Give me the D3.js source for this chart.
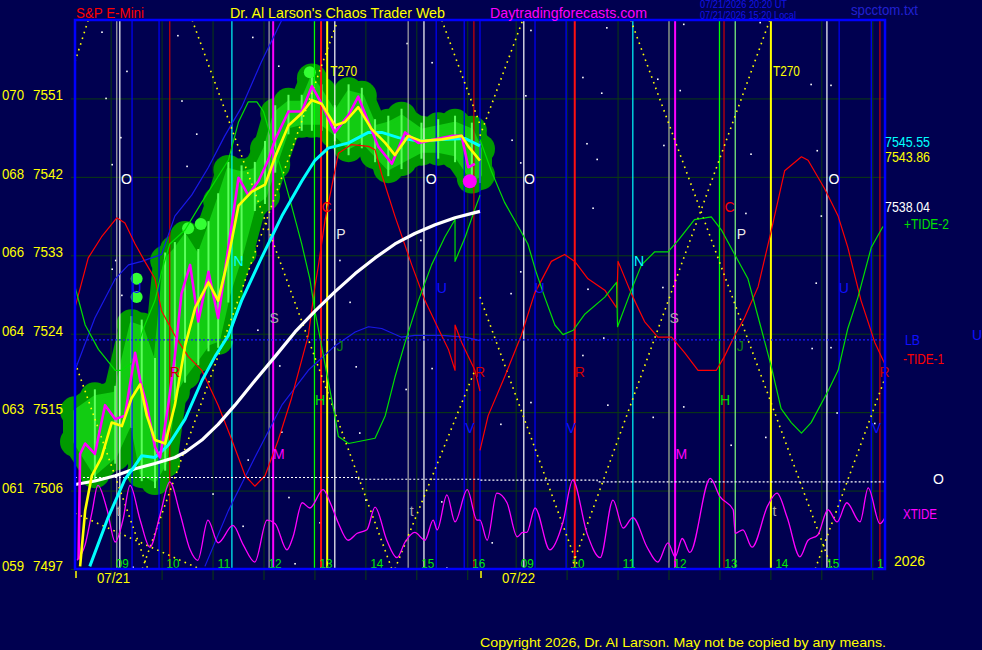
<!DOCTYPE html>
<html>
<head>
<meta charset="utf-8">
<script src="https://cdn.jsdelivr.net/npm/d3@7"></script>
<style>
html, body { margin: 0; padding: 0; background: #000050; }
svg { display: block; font-family: "Liberation Sans", Arial, sans-serif; }
</style>
</head>
<body>
<svg id="chart" width="982" height="650"></svg>
<script>
// ---- data (times are clock hours, 07/22 = 24 + hour) ----
const priceTicks = [7497, 7506, 7515, 7524, 7533, 7542, 7551];
const altTicks = ["059", "061", "063", "064", "066", "068", "070"];
const hourTicks = [9, 10, 11, 12, 13, 14, 15, 16, 33, 34, 35, 36, 37, 38, 39, 40];
const hourLabels = ["09", "10", "11", "12", "13", "14", "15", "16", "09", "10", "11", "12", "13", "14", "15", "16"];
const dayStarts = [8.3, 32.3];
const dayLabels = ["07/21", "07/22"];

// vertical event lines
const markerTimes = [9.12, 9.18, 9.42, 9.95, 10.16, 11.38, 12.11, 12.19, 13.00, 13.13, 13.25, 13.40, 14.84, 15.15, 15.39, 15.94, 16.13, 16.25,
  33.16, 33.38, 33.99, 34.16, 35.30, 36.01, 36.13, 37.00, 37.09, 37.31, 38.01, 39.11, 39.35, 39.98, 40.15];
const markerKinds = ["gray", "white", "blue", "blue", "red", "cyan", "gray", "mag", "green", "hot", "yel", "white", "gray", "white", "blue", "blue", "red", "blue",
  "white", "blue", "blue", "hot", "cyan", "gray", "mag", "green", "red", "lgreen", "yel", "white", "blue", "blue", "red"];

// letter labels
const letterT = [9.31, 15.29, 33.27, 39.25, 13.52, 37.43, 11.51, 35.42, 12.21, 36.11, 9.51, 15.50, 33.47, 39.44, 13.50, 37.41,
  10.26, 16.25, 34.26, 40.24, 13.11, 37.11, 12.30, 36.25, 13.24, 37.20, 16.05, 34.09, 40.08, 9.15, 14.91, 38.08];
const letterP = [7541.7, 7541.7, 7541.7, 7541.7, 7535.5, 7535.5, 7532.3, 7532.3, 7525.8, 7525.8, 7529.2, 7529.2, 7529.2, 7529.2, 7522.6, 7522.6,
  7519.6, 7519.6, 7519.6, 7519.6, 7516.4, 7516.4, 7510.2, 7510.2, 7538.5, 7538.5, 7513.2, 7513.2, 7513.2, 7503.7, 7503.7, 7503.7];
const letterText = ["O", "O", "O", "O", "P", "P", "N", "N", "S", "S", "U", "U", "U", "U", "J", "J",
  "R", "R", "R", "R", "H", "H", "M", "M", "C", "C", "V", "V", "V", "t", "t", "t"];
const t270Times = [13.31, 38.05];
const t270Price = 7554.2;

// +TIDE-2 (green)
const tide2Day1 = [[8.30, 7529.4], [8.50, 7525.0], [8.76, 7522.2], [9.09, 7519.8], [9.22, 7519.8], [9.41, 7520.6], [9.67, 7525.0], [9.87, 7527.8],
  [10.00, 7531.1], [10.16, 7534.3], [10.46, 7535.9], [10.79, 7539.1], [11.05, 7541.5], [11.31, 7543.9], [11.51, 7548.3], [11.70, 7550.6],
  [11.87, 7550.6], [12.00, 7549.5], [12.16, 7546.3], [12.36, 7542.7], [12.55, 7538.7], [12.75, 7534.3], [12.91, 7530.3], [13.01, 7526.6],
  [13.14, 7522.6], [13.27, 7518.6], [13.40, 7514.6], [13.47, 7512.2], [13.67, 7511.4], [14.19, 7512.0], [14.39, 7514.6], [14.58, 7519.0],
  [14.78, 7523.0], [15.04, 7527.8], [15.30, 7531.9], [15.56, 7535.1], [15.76, 7537.1], [15.76, 7532.3], [15.96, 7535.1], [16.15, 7538.3], [16.25, 7539.9]];
const tide2Day2 = [[32.26, 7546.3], [32.52, 7542.7], [32.78, 7539.1], [33.05, 7536.3], [33.24, 7534.3], [33.40, 7531.1], [33.57, 7528.2],
  [33.77, 7525.0], [33.93, 7523.9], [34.13, 7524.4], [34.35, 7526.2], [34.75, 7528.2], [34.98, 7529.9], [35.00, 7524.8], [35.27, 7529.0],
  [35.47, 7531.9], [35.73, 7533.4], [35.99, 7533.4], [36.19, 7534.7], [36.51, 7537.1], [36.84, 7537.4], [37.04, 7535.9], [37.30, 7533.1],
  [37.56, 7530.3], [37.82, 7524.6], [38.02, 7520.2], [38.21, 7515.4], [38.41, 7513.8], [38.61, 7512.6], [38.80, 7513.8], [39.13, 7517.4],
  [39.33, 7519.8], [39.52, 7524.6], [39.72, 7528.2], [39.98, 7533.9], [40.21, 7536.3]];

// -TIDE-1 (red)
const tide1Day1 = [[8.30, 7527.0], [8.56, 7532.7], [8.82, 7535.1], [9.12, 7537.3], [9.28, 7536.7], [9.48, 7534.3], [9.67, 7532.3], [9.87, 7530.3],
  [10.00, 7526.6], [10.26, 7523.8], [10.52, 7521.4], [10.79, 7519.8], [11.11, 7515.8], [11.38, 7511.8], [11.64, 7507.7], [11.83, 7506.5],
  [12.03, 7507.7], [12.29, 7511.8], [12.55, 7516.6], [12.88, 7523.8], [13.01, 7529.4], [13.08, 7531.9], [13.21, 7537.1], [13.47, 7544.7],
  [13.73, 7545.7], [14.06, 7545.5], [14.19, 7545.1], [14.32, 7542.3], [14.58, 7537.5], [14.91, 7531.9], [15.17, 7527.8], [15.43, 7524.6],
  [15.63, 7522.2], [15.76, 7519.8], [15.76, 7525.0], [15.89, 7523.0], [16.15, 7519.8], [16.25, 7517.4]];
const tide1Day2 = [[32.26, 7510.6], [32.46, 7514.6], [32.78, 7519.0], [33.11, 7523.8], [33.37, 7528.6], [33.70, 7532.3], [33.96, 7533.1],
  [34.16, 7532.3], [34.42, 7530.3], [34.75, 7529.0], [34.98, 7527.0], [35.01, 7532.3], [35.27, 7528.6], [35.53, 7525.4], [35.79, 7523.6],
  [36.06, 7523.6], [36.32, 7521.8], [36.58, 7519.8], [36.94, 7519.8], [37.10, 7521.4], [37.30, 7523.8], [37.49, 7525.8], [37.76, 7529.4],
  [38.02, 7535.9], [38.28, 7542.7], [38.61, 7544.3], [38.74, 7543.9], [39.06, 7540.7], [39.33, 7537.5], [39.52, 7533.9], [39.78, 7527.8],
  [40.05, 7523.0], [40.24, 7520.6]];

// blue cycle lines
const blueA = [[8.30, 7519.8], [8.69, 7525.8], [9.09, 7530.3], [9.35, 7531.9], [9.61, 7532.3], [10.00, 7533.1], [10.26, 7537.5], [10.59, 7539.9],
  [10.92, 7543.1], [11.24, 7546.7], [11.57, 7550.0], [11.96, 7555.2], [12.36, 7560.0]];
const blueB = [[10.85, 7497.3], [11.31, 7503.7], [11.83, 7509.8], [12.36, 7515.8], [12.88, 7519.8], [13.40, 7522.6], [13.80, 7524.2],
  [14.06, 7524.8], [14.32, 7524.6], [14.71, 7523.6], [14.97, 7523.8], [15.50, 7523.8], [15.96, 7523.6], [16.25, 7523.2]];
const lbLevel = 7523.3;
const oLevels = [[8.3, 7507.5], [13.87, 7507.5], [13.87, 7507.3], [16.25, 7507.3], [32.3, 7507.2], [34.6, 7507.2], [34.6, 7507.0], [40.25, 7507.0]];

// averages and price
const whiteAvg = [[8.30, 7506.7], [8.69, 7507.1], [9.09, 7507.7], [9.48, 7508.5], [9.87, 7509.1], [10.26, 7509.8], [10.46, 7510.4], [10.79, 7511.8],
  [11.11, 7513.6], [11.44, 7515.8], [11.83, 7518.6], [12.23, 7521.4], [12.62, 7524.2], [13.01, 7526.6], [13.40, 7528.8], [13.80, 7530.9],
  [14.19, 7532.7], [14.58, 7534.3], [14.97, 7535.5], [15.37, 7536.5], [15.76, 7537.3], [16.15, 7537.9], [16.25, 7538.04]];
const cyanAvg = [[8.59, 7497.3], [8.95, 7502.9], [9.28, 7507.3], [9.48, 7508.9], [9.61, 7510.0], [9.87, 7509.8], [10.13, 7511.2], [10.46, 7514.2],
  [10.79, 7518.6], [11.05, 7521.4], [11.31, 7523.8], [11.57, 7527.8], [11.96, 7532.7], [12.36, 7537.5], [12.75, 7541.5], [13.01, 7543.9],
  [13.27, 7545.3], [13.67, 7545.9], [14.06, 7547.1], [14.32, 7547.1], [14.65, 7546.5], [15.04, 7546.1], [15.50, 7546.3], [15.96, 7546.4], [16.25, 7545.55]];
const yellowAvg = [[8.40, 7497.3], [8.50, 7503.7], [8.63, 7507.7], [8.82, 7509.8], [9.02, 7513.8], [9.22, 7513.4], [9.41, 7516.6], [9.58, 7518.2],
  [9.71, 7514.6], [9.87, 7511.8], [10.07, 7511.4], [10.26, 7515.8], [10.46, 7522.6], [10.66, 7527.0], [10.92, 7529.9], [11.11, 7527.8],
  [11.31, 7532.7], [11.51, 7538.7], [11.77, 7540.3], [12.03, 7541.1], [12.23, 7544.3], [12.49, 7547.9], [12.75, 7549.3], [12.95, 7550.8],
  [13.14, 7550.4], [13.40, 7547.9], [13.60, 7548.3], [13.86, 7550.0], [14.12, 7547.5], [14.39, 7545.9], [14.58, 7544.5], [14.84, 7546.7],
  [15.10, 7546.1], [15.50, 7546.3], [15.89, 7546.7], [16.02, 7545.5], [16.25, 7543.86]];
const priceLine = [[8.37, 7498.1], [8.40, 7510.2], [8.50, 7511.4], [8.69, 7510.2], [8.89, 7515.8], [9.09, 7514.2], [9.28, 7514.6], [9.48, 7521.8],
  [9.58, 7518.6], [9.71, 7515.8], [9.87, 7511.0], [9.97, 7509.8], [10.13, 7515.8], [10.26, 7521.4], [10.39, 7528.6], [10.56, 7531.9],
  [10.72, 7525.4], [10.92, 7531.1], [11.11, 7525.8], [11.31, 7533.9], [11.51, 7541.9], [11.70, 7539.9], [11.90, 7541.5], [12.09, 7543.9],
  [12.23, 7546.3], [12.49, 7549.5], [12.75, 7549.5], [12.95, 7552.4], [13.14, 7550.4], [13.40, 7547.1], [13.67, 7549.1], [13.86, 7551.2],
  [14.06, 7548.3], [14.25, 7545.5], [14.52, 7543.5], [14.78, 7547.1], [15.04, 7545.9], [15.37, 7546.3], [15.69, 7546.7], [15.89, 7546.7],
  [16.02, 7543.1], [16.15, 7543.5]];
const lastPrice = [16.05, 7541.5];

// bar ranges behind the price (time, high, low)
const barRanges = [[8.30, 7515.1, 7511.6], [8.69, 7516.7, 7508.0], [9.09, 7517.1, 7510.0], [9.41, 7525.1, 7514.1], [9.61, 7524.7, 7508.0],
  [9.87, 7520.3, 7507.2], [10.07, 7532.4, 7509.2], [10.26, 7533.6, 7517.3], [10.46, 7535.2, 7519.3], [10.72, 7532.8, 7521.3],
  [10.92, 7536.0, 7522.9], [11.11, 7539.2, 7523.3], [11.31, 7542.8, 7528.5], [11.57, 7542.4, 7533.3], [11.83, 7542.8, 7539.0],
  [12.03, 7545.2, 7539.8], [12.23, 7549.3, 7543.4], [12.49, 7550.5, 7547.8], [12.75, 7550.5, 7548.2], [12.95, 7553.3, 7548.2],
  [13.14, 7551.7, 7548.2], [13.40, 7549.3, 7547.0], [13.67, 7551.7, 7545.4], [13.93, 7551.3, 7546.2], [14.19, 7547.7, 7544.6],
  [14.45, 7548.1, 7543.0], [14.71, 7548.9, 7543.8], [15.10, 7547.3, 7545.0], [15.43, 7547.7, 7545.0], [15.76, 7548.1, 7544.6],
  [16.09, 7547.3, 7541.8], [16.25, 7545.2, 7542.2]];
const brightPoints = [[9.51, 7530.3], [9.51, 7528.2], [10.52, 7536.1], [10.77, 7536.6], [12.91, 7554.0]];

// XTIDE oscillator
const xtide = [[8.34, 7498.0], [8.50, 7499.8], [8.63, 7503.4], [8.75, 7506.6], [8.93, 7503.8], [9.09, 7500.1], [9.24, 7502.6], [9.38, 7506.6],
  [9.58, 7502.6], [9.77, 7499.5], [9.97, 7503.2], [10.16, 7507.0], [10.36, 7503.4], [10.56, 7499.2], [10.71, 7498.0], [10.91, 7502.6],
  [11.11, 7500.0], [11.40, 7502.0], [11.60, 7499.8], [11.83, 7497.8], [12.07, 7502.6], [12.23, 7502.2], [12.46, 7499.2], [12.58, 7500.7],
  [12.76, 7504.6], [12.91, 7504.0], [13.17, 7506.1], [13.31, 7504.6], [13.46, 7502.4], [13.66, 7500.3], [13.84, 7501.1], [14.03, 7501.5],
  [14.19, 7504.1], [14.42, 7500.3], [14.62, 7498.3], [14.78, 7500.1], [14.97, 7501.2], [15.17, 7500.3], [15.33, 7502.6], [15.41, 7501.5],
  [15.60, 7505.5], [15.76, 7502.4], [16.00, 7506.1], [16.19, 7502.6], [16.25, 7502.6], [32.44, 7500.3], [32.63, 7505.7], [32.83, 7504.6],
  [33.03, 7500.7], [33.14, 7501.2], [33.22, 7501.2], [33.38, 7504.0], [33.67, 7499.2], [33.93, 7502.4], [34.12, 7507.2], [34.40, 7501.1],
  [34.66, 7498.3], [34.91, 7504.9], [35.11, 7501.7], [35.30, 7502.9], [35.58, 7499.5], [35.79, 7497.8], [35.99, 7500.0], [36.13, 7498.4],
  [36.27, 7500.5], [36.42, 7498.9], [36.82, 7507.4], [37.01, 7505.3], [37.27, 7503.8], [37.31, 7501.1], [37.46, 7501.5], [37.64, 7499.5],
  [37.95, 7504.3], [38.13, 7505.7], [38.33, 7502.9], [38.58, 7498.4], [38.74, 7500.3], [38.93, 7500.9], [39.13, 7503.8], [39.31, 7502.4],
  [39.50, 7504.6], [39.76, 7502.4], [39.92, 7506.3], [40.15, 7502.2], [40.25, 7502.9]];

// dotted time/price diagonals
const diagonals = [
  [[8.30, 7555.2], [8.56, 7560]],
  [[8.30, 7520.7], [9.73, 7497]],
  [[9.62, 7497], [13.46, 7560]],
  [[10.60, 7560], [14.52, 7497]],
  [[14.58, 7497], [16.15, 7519.8]],
  [[15.50, 7560], [16.25, 7548.0]],
  [[8.30, 7503.4], [10.75, 7497]],
  [[32.26, 7546.7], [33.14, 7560]],
  [[32.26, 7528.2], [34.24, 7497]],
  [[34.09, 7497], [37.99, 7560]],
  [[35.26, 7560], [39.21, 7497]],
  [[38.88, 7497], [40.25, 7518.9]]
];

// scattered star points
const stars = [[8.83, 7558.6], [9.32, 7554.1], [8.91, 7551.0], [10.32, 7558.2], [10.40, 7550.7], [11.79, 7558.0], [14.82, 7557.3], [15.31, 7555.1],
  [9.20, 7546.5], [9.03, 7543.4], [10.69, 7546.9], [10.50, 7543.2], [12.30, 7554.7], [9.10, 7532.4], [9.03, 7531.4], [13.50, 7532.4],
  [13.70, 7527.6], [15.09, 7534.7], [14.80, 7517.6], [13.82, 7520.2], [13.89, 7512.6], [15.31, 7520.0], [12.36, 7512.7], [11.89, 7524.4],
  [9.22, 7528.4], [12.32, 7520.3], [11.70, 7509.5], [11.01, 7505.6], [12.50, 7505.2], [13.11, 7502.3], [14.01, 7504.9], [15.50, 7504.7],
  [11.60, 7501.9], [12.62, 7497.6], [15.60, 7497.1], [9.44, 7497.2], [32.54, 7500.0],
  [33.30, 7558.8], [34.79, 7559.1], [36.30, 7559.5], [34.32, 7553.4], [34.69, 7551.6], [35.79, 7553.2], [36.23, 7551.9], [38.80, 7552.6],
  [39.19, 7552.5], [37.80, 7559.7], [33.20, 7551.3], [32.93, 7546.2], [33.10, 7543.6], [34.40, 7545.8], [34.60, 7544.0], [34.52, 7538.4],
  [33.10, 7531.1], [32.91, 7528.6], [34.42, 7529.1], [35.91, 7545.6], [35.89, 7529.3], [37.62, 7544.6], [37.52, 7537.8], [38.92, 7545.0],
  [39.00, 7537.5], [38.90, 7529.8], [38.82, 7522.3], [39.19, 7522.4], [34.73, 7523.5], [34.32, 7521.5], [33.30, 7516.1], [32.71, 7513.6],
  [34.81, 7515.8], [36.30, 7515.6], [39.31, 7514.9], [35.70, 7514.4], [37.23, 7511.2], [37.91, 7512.1], [40.05, 7513.7]];

// ---- drawing ----
const W = 982, H = 650;
const svg = d3.select("#chart");
const x = d3.scaleLinear().domain([8.3, 16.25, 32.3, 40.25]).range([75, 480, 480, 885]);
const y = d3.scaleLinear().domain([7497, 7560]).range([569, 20]);
const line = d3.line().x(d => x(d[0])).y(d => y(d[1]));
const x0 = x(8.3), x1 = x(40.25), yTop = y(7560), yBot = y(7497);

const markerColor = {gray: "#a8a8a8", white: "#ffffff", blue: "#0000ff", red: "#d00000", hot: "#ff1010", cyan: "#00ffff",
  mag: "#ff00ff", green: "#00ff00", lgreen: "#80ff80", yel: "#ffff00"};
const markerWidth = {mag: 2, yel: 2, hot: 2};
const letterColor = {O: "#ffffff", P: "#e8e8e8", N: "#00ffff", S: "#a8a8a8", U: "#1010ff", J: "#108010", R: "#d00000",
  H: "#00e000", M: "#ff00ff", C: "#ff0000", V: "#1010ff", t: "#a8a8a8"};
const gridColor = "#0b3c10";

function label(txt, px, py, color, size, len, parent) {
  const t = (parent || svg).append("text").attr("x", px).attr("y", py).attr("fill", color)
    .style("font-size", size + "px").text(txt);
  if (len) t.attr("textLength", len).attr("lengthAdjust", "spacingAndGlyphs");
  return t;
}

svg.append("rect").attr("width", W).attr("height", H).attr("fill", "#000050");
svg.append("clipPath").attr("id", "plotClip").append("rect")
  .attr("x", x0).attr("y", yTop).attr("width", x1 - x0).attr("height", yBot - yTop);

// grid
const gx = svg.append("g").attr("transform", `translate(0,${yBot})`)
  .call(d3.axisBottom(x).tickValues(hourTicks).tickSizeInner(-(yBot - yTop)).tickSizeOuter(0).tickFormat(""));
gx.select(".domain").remove();
gx.selectAll("line").attr("stroke", gridColor).attr("y1", 11);

const gy = svg.append("g").attr("transform", `translate(${x0},0)`)
  .call(d3.axisLeft(y).tickValues(priceTicks).tickSizeInner(-(x1 - x0)).tickSizeOuter(0).tickFormat(""));
gy.select(".domain").remove();
gy.selectAll("line").attr("stroke", gridColor).attr("x1", -4);

// stars
svg.append("g").selectAll("rect").data(stars).join("rect")
  .attr("x", d => x(d[0]) - 0.8).attr("y", d => y(d[1]) - 0.8)
  .attr("width", 1.6).attr("height", 1.6).attr("fill", "#ffffff");

// price range blob
const blobGreen = "#009a00";
const area = d3.area().x(d => x(d[0])).y0(d => y(d[2])).y1(d => y(d[1]));
svg.append("path").datum(barRanges).attr("d", area)
  .attr("fill", blobGreen).attr("stroke", blobGreen).attr("stroke-width", 24)
  .attr("stroke-linejoin", "round").attr("stroke-linecap", "round");
const blobDots = svg.append("g").attr("fill", blobGreen);
blobDots.selectAll("circle.hi").data(barRanges).join("circle").attr("class", "hi")
  .attr("cx", d => x(d[0])).attr("cy", d => y(d[1])).attr("r", 15);
blobDots.selectAll("circle.lo").data(barRanges).join("circle").attr("class", "lo")
  .attr("cx", d => x(d[0])).attr("cy", d => y(d[2])).attr("r", 15);
svg.append("path").datum(barRanges).attr("d", area)
  .attr("fill", "#12cc12").attr("stroke", "#12cc12").attr("stroke-width", 4)
  .attr("stroke-linejoin", "round");
svg.append("g").selectAll("line").data(barRanges).join("line")
  .attr("x1", d => x(d[0])).attr("x2", d => x(d[0]))
  .attr("y1", d => y(d[1]) - 8).attr("y2", d => y(d[2]) + 8)
  .attr("stroke", "#5cff5c").attr("stroke-width", 2);
svg.append("g").selectAll("circle").data(brightPoints).join("circle")
  .attr("cx", d => x(d[0])).attr("cy", d => y(d[1])).attr("r", 6).attr("fill", "#33ff33");

// vertical event lines
svg.append("g").selectAll("line").data(markerTimes).join("line")
  .attr("x1", d => x(d)).attr("x2", d => x(d)).attr("y1", yTop).attr("y2", yBot)
  .attr("stroke", (d, i) => markerColor[markerKinds[i]])
  .attr("stroke-width", (d, i) => markerWidth[markerKinds[i]] || 1.2);

// dotted diagonals
svg.append("g").selectAll("path").data(diagonals).join("path")
  .attr("d", line).attr("fill", "none").attr("stroke", "#ffff00")
  .attr("stroke-width", 1.6).attr("stroke-dasharray", "1.6,4.4");

// cycle lines
function curve(data, color, width, shape) {
  const gen = shape ? d3.line().x(d => x(d[0])).y(d => y(d[1])).curve(shape) : line;
  svg.append("path").datum(data).attr("d", gen).attr("fill", "none")
    .attr("stroke", color).attr("stroke-width", width).attr("stroke-linejoin", "round");
}
curve(blueA, "#1818e8", 1.2);
curve(blueB, "#1818e8", 1.2);
curve(tide1Day1, "#ff0000", 1.2);
curve(tide1Day2, "#ff0000", 1.2);
curve(tide2Day1, "#00e000", 1.2);
curve(tide2Day2, "#00e000", 1.2);

svg.append("line").attr("x1", x0).attr("x2", x1).attr("y1", y(lbLevel)).attr("y2", y(lbLevel))
  .attr("stroke", "#1a1aff").attr("stroke-width", 1.2).attr("stroke-dasharray", "2,2");
svg.append("path").datum(oLevels).attr("d", line).attr("fill", "none")
  .attr("stroke", "#ffffff").attr("stroke-width", 1.2).attr("stroke-dasharray", "2,2");

// XTIDE
curve(xtide, "#ff00ff", 1.3, d3.curveMonotoneX);

// averages and price
curve(whiteAvg, "#ffffff", 3.2);
curve(cyanAvg, "#00ffff", 3);
curve(priceLine, "#ff00ff", 2.6);
curve(yellowAvg, "#ffff00", 2.6);
svg.append("circle").attr("cx", x(lastPrice[0])).attr("cy", y(lastPrice[1])).attr("r", 7).attr("fill", "#ff00ff");

// letter labels
svg.append("g").selectAll("text").data(letterText).join("text")
  .attr("x", (d, i) => x(letterT[i])).attr("y", (d, i) => y(letterP[i]) + 5)
  .attr("text-anchor", "middle").attr("fill", d => letterColor[d])
  .style("font-size", "14px").text(d => d);
t270Times.forEach(t => label("T270", x(t), y(t270Price) + 5, "#ffff00", 14, 27));

// hour labels sit inside the plot, clipped at its right edge
const hours = svg.append("g").attr("clip-path", "url(#plotClip)");
hourTicks.forEach((h, i) => label(hourLabels[i], x(h) + 5, yBot - 1, "#00f000", 13, 13, hours));

// border
svg.append("rect").attr("x", x0).attr("y", yTop).attr("width", x1 - x0).attr("height", yBot - yTop)
  .attr("fill", "none").attr("stroke", "#0000ff").attr("stroke-width", 2.5);

// axis labels
priceTicks.forEach((p, i) => {
  label(altTicks[i], 2, y(p) + 2, "#ffff00", 15, 22);
  label(String(p), 33, y(p) + 2, "#ffff00", 15, 30);
});
dayStarts.forEach((d, i) => {
  svg.append("line").attr("x1", x(d) + 1).attr("x2", x(d) + 1).attr("y1", yBot + 2).attr("y2", yBot + 9)
    .attr("stroke", "#ffff00").attr("stroke-width", 1.5);
  label(dayLabels[i], x(d) + 22, yBot + 14, "#ffff00", 14, 33);
});

// end-of-series labels
label("7545.55", x1, y(cyanAvg[cyanAvg.length - 1][1]) + 1, "#00ffff", 14, 45);
label("7543.86", x1, y(yellowAvg[yellowAvg.length - 1][1]) + 1, "#ffff00", 14, 45);
label("7538.04", x1, y(whiteAvg[whiteAvg.length - 1][1]) + 1, "#ffffff", 14, 45);
label("+TIDE-2", x1 + 19, y(tide2Day2[tide2Day2.length - 1][1]) + 2, "#00e000", 14, 45);
label("LB", x1 + 20, y(lbLevel) + 5, "#1010ff", 14, 15);
label("U", x1 + 87, y(lbLevel), "#1010ff", 14);
label("-TIDE-1", x1 + 18, y(tide1Day2[tide1Day2.length - 1][1]) + 1, "#ff0000", 14, 41);
label("O", x1 + 48, y(oLevels[oLevels.length - 1][1]) + 2, "#ffffff", 14);
label("XTIDE", x1 + 18, y(xtide[xtide.length - 1][1]) + 1, "#ff00ff", 14, 34);
label("2026", x1 + 9, yBot - 3, "#ffff00", 14, 31);

// header and footer
label("S&P E-Mini", 76, 18, "#ff0000", 15, 68);
label("Dr. Al Larson's Chaos Trader Web", 230, 18, "#ffff00", 15, 215);
label("Daytradingforecasts.com", 490, 18, "#ff00ff", 15, 157);
label("07/21/2026 20:20 UT", 700, 8, "#1414e6", 10, 87);
label("07/21/2026 15:20 Local", 700, 18.5, "#1414e6", 10, 96);
label("spcctom.txt", 851, 15, "#2020d0", 15, 67);
label("Copyright 2026, Dr. Al Larson. May not be copied by any means.", 480, 647, "#ffff00", 13, 406);
</script>
</body>
</html>
